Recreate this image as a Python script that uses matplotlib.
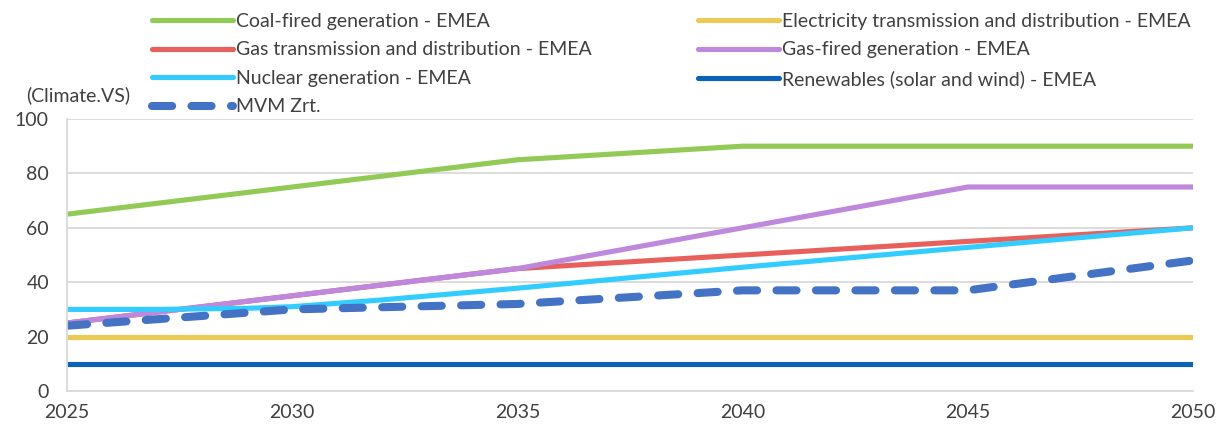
import matplotlib
matplotlib.use("Agg")
import matplotlib.pyplot as plt
from matplotlib.lines import Line2D

plt.rcParams['font.family'] = ['Lato', 'DejaVu Sans']

years = [2025, 2030, 2035, 2040, 2045, 2050]
coal = [65, 75, 85, 90, 90, 90]
electricity = [20, 20, 20, 20, 20, 20]
gas_td = [25, 35, 45, 50, 55, 60]
gas_fired = [25, 35, 45, 60, 75, 75]
nuclear_years = [2025, 2027, 2029, 2030, 2032, 2035, 2040, 2045, 2050]
nuclear = [30, 30, 30.4, 31, 33.5, 37.8, 45.5, 52.8, 60]
renewables = [10, 10, 10, 10, 10, 10]
mvm = [24, 30, 32, 37, 37, 48]

labels = ["Coal-fired generation - EMEA",
          "Electricity transmission and distribution - EMEA",
          "Gas transmission and distribution - EMEA",
          "Gas-fired generation - EMEA",
          "Nuclear generation - EMEA",
          "Renewables (solar and wind) - EMEA",
          "MVM Zrt."]
colors = ["#92C957", "#EBCB55", "#E8605B", "#BE88DC", "#33CCFF", "#0B62B7", "#4472C4"]
ylabel_text = "(Climate.VS)"

FS = 14
fig = plt.figure(figsize=(12.19, 4.25), dpi=100)
ax = fig.add_axes([67/1219, 1-391/425, (1193-67)/1219, (391-119)/425])

lw = 3.7
DASH = (2.5, 2.4)
MLW = 5.8
series = [(years, coal), (years, electricity), (years, gas_td), (years, gas_fired),
          (nuclear_years, nuclear), (years, renewables)]
handles = []
for (xs, ys), c, lab in zip(series, colors[:6], labels[:6]):
    h, = ax.plot(xs, ys, color=c, lw=lw, solid_capstyle='butt', solid_joinstyle='round', label=lab)
    handles.append(h)
hm, = ax.plot(years, mvm, color=colors[6], lw=MLW, dashes=DASH,
              dash_capstyle='round', label=labels[6])
handles.append(hm)

ax.set_xlim(2025, 2050)
ax.set_ylim(0, 100)
ax.set_xticks(years)
ax.set_yticks([0, 20, 40, 60, 80, 100])
ax.yaxis.grid(True, color="#D9D9D9", lw=1.3)
ax.set_axisbelow(True)
for s in ['top', 'right']:
    ax.spines[s].set_visible(False)
for s in ['left', 'bottom']:
    ax.spines[s].set_color("#D9D9D9")
    ax.spines[s].set_linewidth(1.3)
ax.tick_params(axis='both', length=0, labelsize=FS, colors="#404040")
ax.tick_params(axis='y', pad=13)
ax.tick_params(axis='x', pad=9.5)

fig.text(26/1219, 1-95/425, ylabel_text, fontsize=FS, color="#404040", va='center', ha='left')

def mk_handle(h):
    if h is hm:
        return Line2D([], [], color=h.get_color(), lw=h.get_linewidth(),
                      dashes=DASH, dash_capstyle='round')
    return Line2D([], [], color=h.get_color(), lw=h.get_linewidth(),
                  solid_capstyle='round')

col1 = [handles[0], handles[2], handles[4], handles[6]]
col2 = [handles[1], handles[3], handles[5]]
legkw = dict(frameon=False, fontsize=FS, handlelength=4.15, handletextpad=0.15,
             labelspacing=0.59, borderpad=0, borderaxespad=0, labelcolor="#404040")
leg1 = fig.legend([mk_handle(h) for h in col1], [h.get_label() for h in col1],
                  loc='upper left', bbox_to_anchor=(152/1219, 1-13/425), **legkw)
leg2 = fig.legend([mk_handle(h) for h in col2], [h.get_label() for h in col2],
                  loc='upper left', bbox_to_anchor=(698/1219, 1-13/425), **legkw)

fig.savefig("out.png", dpi=100)
